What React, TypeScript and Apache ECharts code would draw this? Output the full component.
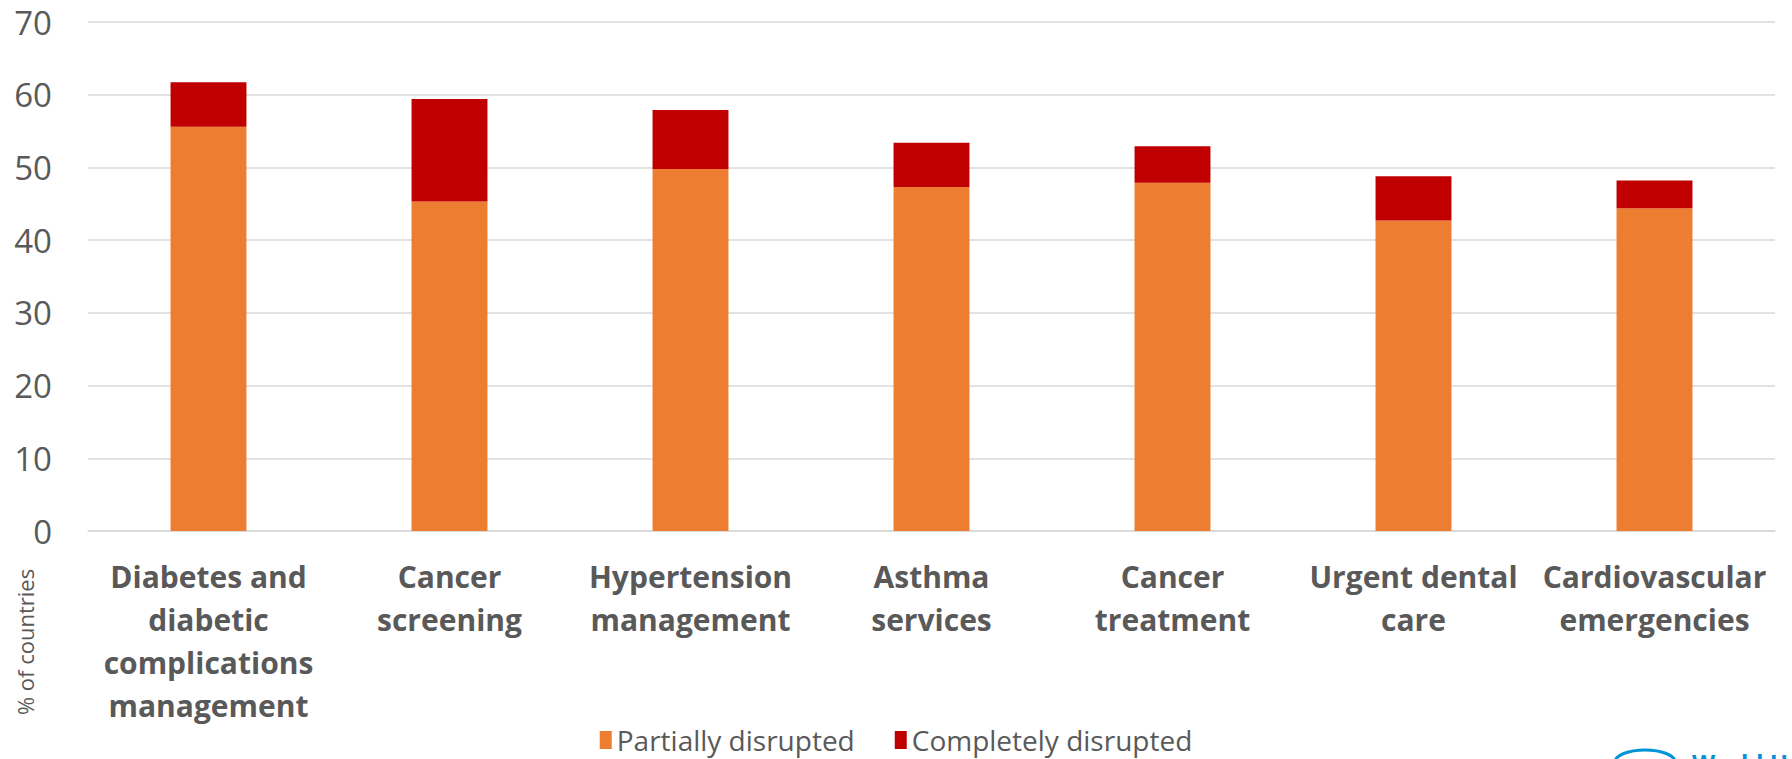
import React, { useEffect, useRef } from "react";
import * as echarts from "echarts";

const categories = [
  "Diabetes and\ndiabetic\ncomplications\nmanagement",
  "Cancer\nscreening",
  "Hypertension\nmanagement",
  "Asthma\nservices",
  "Cancer\ntreatment",
  "Urgent dental\ncare",
  "Cardiovascular\nemergencies",
];
const partiallyDisrupted = [55.6, 45.3, 49.8, 47.3, 47.9, 42.7, 44.4];
const completelyDisrupted = [6.1, 14.1, 8.1, 6.1, 5.0, 6.1, 3.8];
const seriesNames = ["Partially disrupted", "Completely disrupted"];
const yTicks = { min: 0, max: 70, interval: 10 };
const yAxisTitle = "% of countries";
const logoText = "World Health Organization";

const FONT = "'Segoe UI', 'Open Sans', 'Noto Sans', sans-serif";
const GREY = "#595959";

export default function App() {
  const ref = useRef<HTMLDivElement>(null);
  useEffect(() => {
    if (!ref.current) return;
    const chart = echarts.init(ref.current, undefined, { renderer: "svg" });
    chart.setOption({
      animation: false,
      textStyle: { fontFamily: FONT },
      grid: { left: 88, right: 17, top: 22, bottom: 228, containLabel: false },
      legend: {
        bottom: 0,
        left: "center",
        itemWidth: 12,
        itemHeight: 18,
        itemGap: 40,
        icon: "rect",
        textStyle: { fontSize: 28, color: GREY, fontFamily: FONT },
        data: seriesNames,
      },
      xAxis: {
        type: "category",
        data: categories,
        axisTick: { show: false },
        axisLine: { lineStyle: { color: "#d9d9d9", width: 1.5 } },
        axisLabel: {
          interval: 0,
          margin: 24,
          fontSize: 30,
          fontWeight: "bold",
          color: GREY,
          lineHeight: 43,
          fontFamily: FONT,
        },
      },
      yAxis: {
        type: "value",
        min: yTicks.min,
        max: yTicks.max,
        interval: yTicks.interval,
        axisLine: { show: false },
        axisTick: { show: false },
        splitLine: { lineStyle: { color: "#d9d9d9", width: 1.5 } },
        axisLabel: { fontSize: 33, color: GREY, margin: 36, fontFamily: FONT },
      },
      series: [
        {
          name: seriesNames[0],
          type: "bar",
          stack: "total",
          data: partiallyDisrupted,
          barWidth: "31.5%",
          itemStyle: { color: "#ED7D31" },
        },
        {
          name: seriesNames[1],
          type: "bar",
          stack: "total",
          data: completelyDisrupted,
          barWidth: "31.5%",
          itemStyle: { color: "#C00000" },
        },
      ],
      graphic: [
        {
          type: "text",
          x: 25,
          y: 642,
          rotation: Math.PI / 2,
          style: {
            text: yAxisTitle,
            fontSize: 22,
            fill: GREY,
            fontFamily: FONT,
            textAlign: "center",
            textVerticalAlign: "middle",
          },
        },
        {
          type: "text",
          x: 1692,
          y: 750,
          style: {
            text: logoText,
            fontSize: 24,
            fontWeight: "bold",
            fill: "#0093D5",
            fontFamily: FONT,
            textAlign: "left",
            textVerticalAlign: "top",
          },
        },
        {
          type: "ellipse",
          shape: { cx: 1645, cy: 762, rx: 30, ry: 12 },
          style: { fill: "none", stroke: "#0093D5", lineWidth: 3 },
        },
      ],
    });
    return () => chart.dispose();
  }, []);
  return (
    <div
      ref={ref}
      style={{ position: "fixed", left: 0, top: 0, width: 1792, height: 759, background: "#fff" }}
    />
  );
}
